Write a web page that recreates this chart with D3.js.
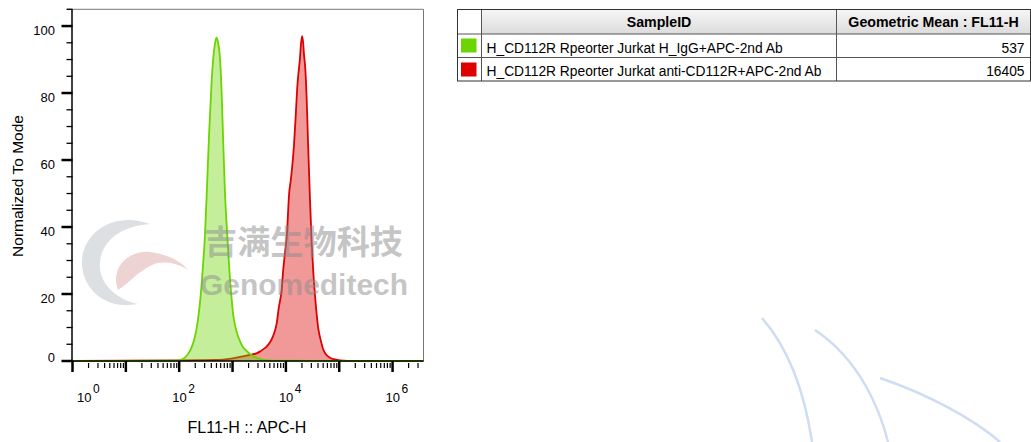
<!DOCTYPE html>
<html><head><meta charset="utf-8">
<script src="https://cdn.jsdelivr.net/npm/d3@7"></script>
<style>
body{margin:0;background:#fff;}
svg{display:block;font-family:"Liberation Sans",Arial,Helvetica,sans-serif;}
</style>
</head><body>
<svg id="chart" width="1031" height="442"></svg>
<script>
// ---------- data (FL11-H intensity, % of mode) ----------
const greenX = [1,83,103,128,148,170,192,211,232,251,281,303,334,364,404,433,466,501,537,578,622,667,718,773,828,891,957,1026,1104,1230,1371,1560,1832,2270,2985,4037,6209,3.8e6];
const greenY = [0,0.1,0.3,1.0,2.2,4,6.5,9.5,14,19,29,37,53,68,83,90,94.5,96.5,95,91,81,66,51,41,33,25,19,14,11,8,6,4.2,3,1.7,0.8,0.3,0.1,0];
const redX = [1,117,244,466,658,1014,1560,2113,2818,3251,3750,4345,5012,5768,6683,7379,8299,8892,9572,10568,11041,11508,12134,12764,14125,15382,16558,17500,18281,19275,20184,21086,21727,23174,24434,26182,28184,30339,32509,35400,40272,45290,50003,56234,66834,82794,102804,145211,3.8e6];
const redY = [0,0.2,0.25,0.3,0.4,0.8,1.4,1.8,2.3,2.8,3.5,4.3,5.5,7.5,11,16,21,27,32,39,45,50,53,56,64,74,83,87,90,95,97,95,92,87,79,64,49,36,27,19,10,6,3.5,2,1,0.5,0.2,0.05,0];

const yMajorTicks = [0,20,40,60,80,100];
const yMinorTicks = [5,10,15,25,30,35,45,50,55,65,70,75,85,90,95,105];
const xLabelExps = [0,2,4,6];
const xDecadeExps = [0,1,2,3,4,5,6];

const sampleIDs = ["H_CD112R Rpeorter Jurkat H_IgG+APC-2nd Ab",
                   "H_CD112R Rpeorter Jurkat anti-CD112R+APC-2nd Ab"];
const geoMeans = [537, 16405];
const seriesColors = ["#6cd400", "#dd0000"];
const tableHeaders = ["SampleID", "Geometric Mean : FL11-H"];

// ---------- setup ----------
const svg = d3.select("#chart");
const L = 72.5, R = 423.5, T = 9.3, B = 361;
const x = d3.scaleLog().domain([1, 3.8e6]).range([L, R]);
const y = d3.scaleLinear().domain([0, 105]).range([B, T]);

const defs = svg.append("defs");
const grad = defs.append("linearGradient").attr("id","hdr").attr("x1",0).attr("y1",0).attr("x2",0).attr("y2",1);
grad.append("stop").attr("offset","0%").attr("stop-color","#f6f6f6");
grad.append("stop").attr("offset","100%").attr("stop-color","#dcdcdc");

// ---------- watermark logo (behind) ----------
const wm = svg.append("g").attr("class","watermark");
wm.append("path")
  .attr("d","M150,224 C112,210 80,235 82,265 C84,292 108,310 138,304 C112,298 98,280 100,262 C102,240 122,226 150,224 Z")
  .attr("fill","#d2d6da").attr("opacity",0.75);
wm.append("path")
  .attr("d","M118,290 C110,268 128,250 150,252 C168,254 182,262 188,270 C176,262 160,260 150,266 C138,272 130,282 118,290 Z")
  .attr("fill","#e8c4c4").attr("opacity",0.75);
// big faint arcs lower right
wm.append("path").attr("d","M762,318 C790,350 805,395 812,442")
  .attr("fill","none").attr("stroke","#cfdcf2").attr("stroke-width",2.5);
wm.append("path").attr("d","M815,330 C860,360 880,410 888,442")
  .attr("fill","none").attr("stroke","#cfdcf2").attr("stroke-width",2.5);
wm.append("path").attr("d","M880,378 C930,395 975,420 1000,442")
  .attr("fill","none").attr("stroke","#cfdcf2").attr("stroke-width",2.5);

// ---------- histograms ----------
const series = [
  {xs: redX, ys: redY, color: seriesColors[1]},
  {xs: greenX, ys: greenY, color: seriesColors[0]}
];
const area = d3.area().x(d => x(d[0])).y0(y(0)).y1(d => y(d[1])).curve(d3.curveMonotoneX);
const line = d3.line().x(d => x(d[0])).y(d => y(d[1])).curve(d3.curveMonotoneX);
series.forEach(s => {
  const pts = s.xs.map((v,i) => [v, s.ys[i]]);
  svg.append("path").datum(pts).attr("d", area).attr("fill", s.color).attr("fill-opacity", 0.4);
  svg.append("path").datum(pts).attr("d", line).attr("fill","none").attr("stroke", s.color).attr("stroke-width", 1.8);
});

// ---------- watermark text (over) ----------
svg.append("text").attr("x",204).attr("y",254)
  .attr("font-family","'Noto Sans CJK SC',sans-serif").attr("font-weight","bold")
  .attr("font-size",33).attr("textLength",199).attr("lengthAdjust","spacingAndGlyphs")
  .attr("fill","#8c8c8c").attr("fill-opacity",0.5).text("吉满生物科技");
svg.append("text").attr("x",200).attr("y",295)
  .attr("font-weight","bold").attr("font-size",30).attr("textLength",208).attr("lengthAdjust","spacingAndGlyphs")
  .attr("fill","#8c8c8c").attr("fill-opacity",0.5).text("Genomeditech");

// ---------- frame ----------
svg.append("line").attr("x1",67).attr("x2",R).attr("y1",T).attr("y2",T).attr("stroke","#777").attr("stroke-width",1);
svg.append("line").attr("x1",R).attr("x2",R).attr("y1",T).attr("y2",B).attr("stroke","#777").attr("stroke-width",1);

// ---------- y axis ----------
const ya = svg.append("g");
ya.append("line").attr("x1",L-0.5).attr("x2",L-0.5).attr("y1",T).attr("y2",B+1).attr("stroke","#000").attr("stroke-width",1.5);
ya.selectAll(".ymaj").data(yMajorTicks).join("line")
  .attr("x1",L-11).attr("x2",L).attr("y1",d=>y(d)).attr("y2",d=>y(d)).attr("stroke","#000").attr("stroke-width",2.5);
ya.selectAll(".ymin").data(yMinorTicks).join("line")
  .attr("x1",L-6).attr("x2",L).attr("y1",d=>y(d)).attr("y2",d=>y(d)).attr("stroke","#000").attr("stroke-width",1.3);
ya.selectAll(".ylab").data(yMajorTicks).join("text")
  .attr("x",55).attr("y",d => d === 0 ? y(d)+1 : y(d)+9)
  .attr("text-anchor","end").attr("font-size",13).attr("fill","#000").text(d=>d);
svg.append("text").attr("transform","translate(23,186) rotate(-90)")
  .attr("text-anchor","middle").attr("font-size",15.5).attr("fill","#000").text("Normalized To Mode");

// ---------- x axis ----------
const xa = svg.append("g");
xa.append("line").attr("x1",L-1).attr("x2",R).attr("y1",B).attr("y2",B).attr("stroke","#000").attr("stroke-width",1.5);
const minorVals = [];
xDecadeExps.forEach(k => { for (let m = 2; m <= 9; m++) { const v = m * Math.pow(10,k); if (v <= 3.8e6) minorVals.push(v); } });
xa.selectAll(".xmin").data(minorVals).join("line")
  .attr("x1",d=>x(d)).attr("x2",d=>x(d)).attr("y1",B+2).attr("y2",B+7).attr("stroke","#000").attr("stroke-width",1.2);
xa.selectAll(".xmaj").data(xDecadeExps).join("line")
  .attr("x1",d=>x(Math.pow(10,d))).attr("x2",d=>x(Math.pow(10,d))).attr("y1",B).attr("y2",B+11)
  .attr("stroke","#000").attr("stroke-width",2.5);
const xl = xa.selectAll(".xlab").data(xLabelExps).join("text")
  .attr("x",d => d === 0 ? 77 : x(Math.pow(10,d)) - 7).attr("y",402).attr("font-size",13).attr("fill","#000");
xl.append("tspan").text("10");
xl.append("tspan").attr("dy",-9).attr("dx",1.5).attr("font-size",12).text(d=>d);
svg.append("text").attr("x",247).attr("y",433).attr("text-anchor","middle").attr("font-size",16).attr("fill","#000").text("FL11-H :: APC-H");

// ---------- table legend ----------
const tx0 = 457.5, tx1 = 481.5, tx2 = 836.5, tx3 = 1030.5;
const rowsY = [9.5, 34, 57.5, 81];
const tg = svg.append("g");
tg.append("rect").attr("x",tx1).attr("y",rowsY[0]).attr("width",tx3-tx1).attr("height",rowsY[1]-rowsY[0]).attr("fill","url(#hdr)");
// grid
[rowsY[1], rowsY[2]].forEach(yy => tg.append("line").attr("x1",tx0).attr("x2",tx3).attr("y1",yy).attr("y2",yy).attr("stroke","#555").attr("stroke-width",1));
[tx1, tx2].forEach(xx => tg.append("line").attr("x1",xx).attr("x2",xx).attr("y1",rowsY[0]).attr("y2",rowsY[3]).attr("stroke","#555").attr("stroke-width",1));
tg.append("rect").attr("x",tx0).attr("y",rowsY[0]).attr("width",tx3-tx0).attr("height",rowsY[3]-rowsY[0])
  .attr("fill","none").attr("stroke","#333").attr("stroke-width",1);
// header
tg.append("text").attr("x",(tx1+tx2)/2).attr("y",27).attr("text-anchor","middle").attr("font-weight","bold").attr("font-size",14.2).text(tableHeaders[0]);
tg.append("text").attr("x",(tx2+tx3)/2).attr("y",27).attr("text-anchor","middle").attr("font-weight","bold").attr("font-size",14.2).text(tableHeaders[1]);
// rows
const rowBase = [52.5, 76];
const swY = [38.5, 62.5];
sampleIDs.forEach((sid,i) => {
  tg.append("rect").attr("x",461).attr("y",swY[i]).attr("width",15.5).attr("height",14).attr("fill",seriesColors[i]);
  tg.append("text").attr("x",486.5).attr("y",rowBase[i]).attr("font-size",13.8).attr("fill","#000").text(sid);
  tg.append("text").attr("x",1024.5).attr("y",rowBase[i]).attr("text-anchor","end").attr("font-size",13.8).attr("fill","#000").text(geoMeans[i]);
});
</script>
</body></html>
